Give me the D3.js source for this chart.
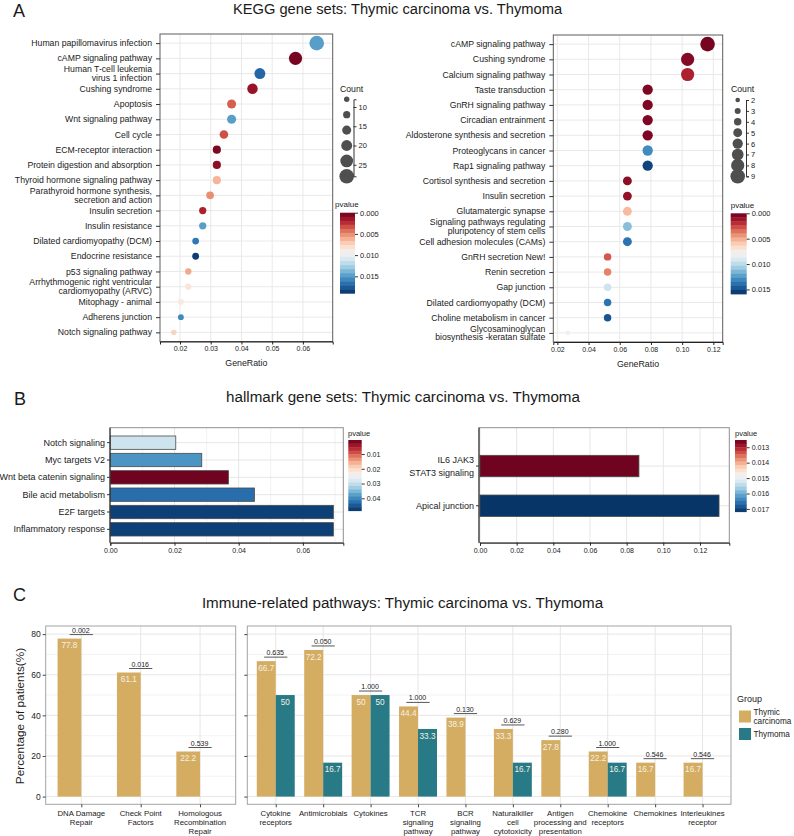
<!DOCTYPE html>
<html><head><meta charset="utf-8">
<script src="https://cdn.jsdelivr.net/npm/d3@7/dist/d3.min.js"></script>
<style>
html,body{margin:0;padding:0;background:#fff;}
svg{display:block;font-family:"Liberation Sans",Arial,Helvetica,sans-serif;}
</style></head><body>
<svg id="chart" width="794" height="836"></svg>
<script>
// ---------------- DATA ----------------
// Panel A – KEGG (left)
const keggLeftTerms = ["Human papillomavirus infection","cAMP signaling pathway","Human T-cell leukemia\nvirus 1 infection","Cushing syndrome","Apoptosis","Wnt signaling pathway","Cell cycle","ECM-receptor interaction","Protein digestion and absorption","Thyroid hormone signaling pathway","Parathyroid hormone synthesis,\nsecretion and action","Insulin secretion","Insulin resistance","Dilated cardiomyopathy (DCM)","Endocrine resistance","p53 signaling pathway","Arrhythmogenic right ventricular\ncardiomyopathy (ARVC)","Mitophagy - animal","Adherens junction","Notch signaling pathway"];
const keggLeftRatio = [0.0645,0.0576,0.0460,0.0436,0.0368,0.0368,0.0343,0.0320,0.0320,0.0320,0.0298,0.0274,0.0274,0.0251,0.0251,0.0227,0.0227,0.0203,0.0203,0.0180];
const keggLeftCount = [28,25,20,19,16,16,15,14,14,14,13,12,12,11,11,10,10,9,9,8];
const keggLeftP = [0.0148,0.0004,0.0170,0.0013,0.0038,0.0148,0.0034,0.0006,0.0010,0.0063,0.0051,0.0019,0.0148,0.0163,0.0185,0.0059,0.0084,0.0086,0.0156,0.0074];
const keggLeftXTicks = [0.02,0.03,0.04,0.05,0.06];
const keggLeftCountTicks = [10,15,20,25];
const keggLeftCountKeys = [8,12,16,20,24,28];
const keggLeftPTicks = [0,0.005,0.010,0.015];

// Panel A – KEGG (right)
const keggRightTerms = ["cAMP signaling pathway","Cushing syndrome","Calcium signaling pathway","Taste transduction","GnRH signaling pathway","Circadian entrainment","Aldosterone synthesis and secretion","Proteoglycans in cancer","Rap1 signaling pathway","Cortisol synthesis and secretion","Insulin secretion","Glutamatergic synapse","Signaling pathways regulating\npluripotency of stem cells","Cell adhesion molecules (CAMs)","GnRH secretion New!","Renin secretion","Gap junction","Dilated cardiomyopathy (DCM)","Choline metabolism in cancer","Glycosaminoglycan\nbiosynthesis -keratan sulfate"];
const keggRightRatio = [0.1163,0.1035,0.1035,0.0779,0.0779,0.0779,0.0779,0.0779,0.0779,0.0649,0.0649,0.0649,0.0649,0.0649,0.0522,0.0522,0.0522,0.0522,0.0522,0.0266];
const keggRightCount = [9,8,8,6,6,6,6,6,6,5,5,5,5,5,4,4,4,4,4,2];
const keggRightP = [0.0003,0.0006,0.0016,0.0005,0.0005,0.0005,0.0005,0.0130,0.0153,0.0008,0.0010,0.0054,0.0113,0.0138,0.0030,0.0040,0.0095,0.0138,0.0148,0.0078];
const keggRightXTicks = [0.02,0.04,0.06,0.08,0.10,0.12];
const keggRightCountTicks = [2,3,4,5,6,7,8,9];
const keggRightPTicks = [0,0.005,0.010,0.015];

// Panel B – hallmark
const hallLeftTerms = ["Notch signaling","Myc targets V2","Wnt beta catenin signaling","Bile acid metabolism","E2F targets","Inflammatory response"];
const hallLeftRatio = [0.0204,0.0285,0.0368,0.0449,0.0695,0.0695];
const hallLeftP = [0.0292,0.0388,0.0010,0.0427,0.0470,0.0470];
const hallLeftXTicks = [0,0.02,0.04,0.06];
const hallLeftXMinor = [0.01,0.03,0.05,0.07];
const hallLeftPTicks = [0.01,0.02,0.03,0.04];

const hallRightTerms = ["IL6 JAK3\nSTAT3 signaling","Apical junction"];
const hallRightRatio = [0.0867,0.1304];
const hallRightP = [0.01258,0.01714];
const hallRightXTicks = [0,0.02,0.04,0.06,0.08,0.10,0.12];
const hallRightPTicks = [0.013,0.014,0.015,0.016,0.017];

// Panel C – immune related pathways
const immLeftCats = ["DNA Damage\nRepair","Check Point\nFactors","Homologous\nRecombination\nRepair"];
const immLeftCarcinoma = [77.8,61.1,22.2];
const immLeftThymoma = [0,0,0];
const immLeftP = ["0.002","0.016","0.539"];
const immRightCats = ["Cytokine\nreceptors","Antimicrobials","Cytokines","TCR\nsignaling\npathway","BCR\nsignaling\npathway","Naturalkiller\ncell\ncytotoxicity","Antigen\nprocessing and\npresentation","Chemokine\nreceptors","Chemokines","Interleukines\nreceptor"];
const immRightCarcinoma = [66.7,72.2,50,44.4,38.9,33.3,27.8,22.2,16.7,16.7];
const immRightThymoma = [50,16.7,50,33.3,0,16.7,0,16.7,0,0];
const immRightP = ["0.635","0.050","1.000","1.000","0.130","0.629","0.280","1.000","0.546","0.546"];
const immYTicks = [0,20,40,60,80];
const immYMinor = [10,30,50,70];
const groups = ["Thymic\ncarcinoma","Thymoma"];
const groupColors = ["#d4ad63","#287a86"];

// ---------------- HELPERS ----------------
const svg = d3.select("#chart");
const TXT = "#1a1a1a";
const GRID = "#e6e6e6";

function multi(g, str, x, y, lh, anchor, fs, firstAtY) {
  const ls = str.split("\n");
  const t = g.append("text").attr("text-anchor", anchor).attr("font-size", fs).attr("fill", TXT);
  ls.forEach((l, i) => {
    const yy = firstAtY ? y + i * lh : y + (i - (ls.length - 1) / 2) * lh;
    t.append("tspan").attr("x", x).attr("y", yy).attr("dy", "0.35em").text(l);
  });
  return t;
}
function styleAxis(sel, fs, col) {
  sel.attr("font-family", null).attr("font-size", fs);
  sel.selectAll("text").attr("fill", TXT);
  sel.selectAll("line,path").attr("stroke", col || "#222");
}
function colorbar(o) {
  const g = svg.append("g");
  const n = 20;
  const ys = d3.scaleLinear().domain(o.domain).range([o.y0, o.y1]);
  g.selectAll("rect").data(d3.range(n)).join("rect")
    .attr("x", o.x).attr("width", o.w)
    .attr("y", i => o.y0 + i * (o.y1 - o.y0) / n)
    .attr("height", (o.y1 - o.y0) / n + 0.4)
    .attr("fill", i => d3.interpolateRdBu((i + 0.5) / n));
  const ax = g.append("g").attr("transform", `translate(${o.x + o.w},0)`)
    .call(d3.axisRight(ys).tickValues(o.ticks).tickFormat(d3.format(o.fmt)).tickSize(3).tickPadding(2));
  ax.select(".domain").remove();
  styleAxis(ax, o.fs, "#333");
  g.append("text").attr("x", o.tx).attr("y", o.ty).attr("font-size", o.tfs).attr("fill", TXT).text("pvalue");
}

// ---------------- TITLES ----------------
svg.append("text").attr("x", 13).attr("y", 17).attr("font-size", 18).attr("fill", TXT).text("A");
svg.append("text").attr("x", 14).attr("y", 405).attr("font-size", 18).attr("fill", TXT).text("B");
svg.append("text").attr("x", 13).attr("y", 601).attr("font-size", 18).attr("fill", TXT).text("C");
svg.append("text").attr("x", 397.5).attr("y", 14).attr("text-anchor", "middle").attr("font-size", 14.7).attr("fill", TXT).text("KEGG gene sets: Thymic carcinoma vs. Thymoma");
svg.append("text").attr("x", 403).attr("y", 402).attr("text-anchor", "middle").attr("font-size", 15.2).attr("fill", TXT).text("hallmark gene sets: Thymic carcinoma vs. Thymoma");
svg.append("text").attr("x", 402.5).attr("y", 608).attr("text-anchor", "middle").attr("font-size", 15.2).attr("fill", TXT).text("Immune-related pathways: Thymic carcinoma vs. Thymoma");

// ---------------- PANEL A ----------------
function drawDot(o) {
  const g = svg.append("g");
  const x = d3.scaleLinear().domain(o.xDomain).range([o.x0, o.x1]);
  const y = d3.scalePoint().domain(o.terms).range([o.y0, o.y1]).padding(0.6);
  const r = d3.scaleLinear().domain(o.sizeDomain).range(o.rRange);
  const col = d3.scaleSequential(d3.interpolateRdBu).domain(o.pDomain);
  g.append("g").selectAll("line").data(o.xTicks).join("line")
    .attr("x1", d => x(d)).attr("x2", d => x(d)).attr("y1", o.y0).attr("y2", o.y1)
    .attr("stroke", GRID).attr("stroke-width", 0.9);
  g.append("g").selectAll("line").data(o.terms).join("line")
    .attr("x1", o.x0).attr("x2", o.x1).attr("y1", d => y(d)).attr("y2", d => y(d))
    .attr("stroke", GRID).attr("stroke-width", 0.9);
  g.append("rect").attr("x", o.x0).attr("y", o.y0).attr("width", o.x1 - o.x0).attr("height", o.y1 - o.y0)
    .attr("fill", "none").attr("stroke", "#5c5c5c").attr("stroke-width", 1);
  g.append("g").selectAll("circle").data(o.terms).join("circle")
    .attr("cx", (d, i) => x(o.ratio[i])).attr("cy", d => y(d))
    .attr("r", (d, i) => r(o.count[i])).attr("fill", (d, i) => col(o.p[i]));
  const ya = g.append("g").attr("transform", `translate(${o.x0},0)`)
    .call(d3.axisLeft(y).tickSize(4).tickSizeOuter(0).tickFormat(""));
  ya.select(".domain").remove();
  styleAxis(ya, 8.7, "#333");
  o.terms.forEach(t => multi(g, t, o.x0 - 8, y(t), 8.8, "end", 8.7, false));
  const xa = g.append("g").attr("transform", `translate(0,${o.y1})`)
    .call(d3.axisBottom(x).tickValues(o.xTicks).tickFormat(d3.format(".2f")).tickSize(3).tickSizeOuter(3).tickPadding(2));
  styleAxis(xa, 7, "#222");
  g.append("text").attr("x", (o.x0 + o.x1) / 2).attr("y", o.y1 + 24.5).attr("text-anchor", "middle")
    .attr("font-size", 8.8).attr("fill", TXT).text("GeneRatio");
  // size legend
  const sy = d3.scaleLinear().domain(o.sizeDomain).range([o.sl.y0, o.sl.y1]);
  g.append("text").attr("x", o.sl.tx).attr("y", o.sl.ty).attr("font-size", 8.7).attr("fill", TXT).text("Count");
  g.append("g").selectAll("circle").data(o.sl.keys).join("circle")
    .attr("cx", o.sl.cx).attr("cy", d => sy(d)).attr("r", d => r(d)).attr("fill", "#4f4f4f");
  const sa = g.append("g").attr("transform", `translate(${o.sl.ax},0)`)
    .call(d3.axisRight(sy).tickValues(o.sl.ticks).tickFormat(d3.format("d")).tickSize(3).tickSizeOuter(3).tickPadding(2));
  styleAxis(sa, 7.5, "#333");
  colorbar(Object.assign({domain: o.pDomain}, o.cb));
}

drawDot({
  terms: keggLeftTerms, ratio: keggLeftRatio, count: keggLeftCount, p: keggLeftP,
  x0: 160, x1: 332.7, y0: 34, y1: 341.5, xDomain: [0.0135, 0.0697], xTicks: keggLeftXTicks,
  sizeDomain: [8, 28], rRange: [2.7, 7.3], pDomain: [0, 0.019],
  sl: {keys: keggLeftCountKeys, ticks: keggLeftCountTicks, y0: 99.3, y1: 176.3, cx: 346.7, ax: 353.5, tx: 340, ty: 92},
  cb: {x: 340, w: 15, y0: 212.7, y1: 293.3, ticks: keggLeftPTicks, fmt: ".3f", fs: 7.5, tx: 335, ty: 207, tfs: 8}
});
drawDot({
  terms: keggRightTerms, ratio: keggRightRatio, count: keggRightCount, p: keggRightP,
  x0: 553.3, x1: 722.7, y0: 35, y1: 342, xDomain: [0.0174, 0.1260], xTicks: keggRightXTicks,
  sizeDomain: [2, 9], rRange: [2.3, 7.3], pDomain: [0, 0.0159],
  sl: {keys: keggRightCountTicks, ticks: keggRightCountTicks, y0: 100, y1: 176.3, cx: 737.7, ax: 746, tx: 731, ty: 92},
  cb: {x: 730.7, w: 16, y0: 213.3, y1: 294, ticks: keggRightPTicks, fmt: ".3f", fs: 7.5, tx: 730.7, ty: 208, tfs: 8}
});

// ---------------- PANEL B ----------------
function drawHBar(o) {
  const g = svg.append("g");
  const x = d3.scaleLinear().domain(o.xDomain).range([o.xr0, o.x1]);
  const y = d3.scaleBand().domain(o.terms).range([o.by0, o.by1]).paddingInner(o.pi).paddingOuter(o.po);
  const col = d3.scaleSequential(d3.interpolateRdBu).domain(o.pDomain);
  g.append("g").selectAll("line").data(o.xMinor || []).join("line")
    .attr("x1", d => x(d)).attr("x2", d => x(d)).attr("y1", o.y0).attr("y2", o.y1).attr("stroke", "#f2f2f2");
  g.append("g").selectAll("line").data(o.xTicks).join("line")
    .attr("x1", d => x(d)).attr("x2", d => x(d)).attr("y1", o.y0).attr("y2", o.y1).attr("stroke", GRID);
  g.append("g").selectAll("line").data(o.terms).join("line")
    .attr("x1", o.x0).attr("x2", o.x1).attr("y1", d => y(d) + y.bandwidth() / 2).attr("y2", d => y(d) + y.bandwidth() / 2)
    .attr("stroke", GRID);
  g.append("rect").attr("x", o.x0).attr("y", o.y0).attr("width", o.x1 - o.x0).attr("height", o.y1 - o.y0)
    .attr("fill", "none").attr("stroke", "#8f8f8f").attr("stroke-width", 1);
  g.append("g").selectAll("rect").data(o.terms).join("rect")
    .attr("x", x(0)).attr("y", d => y(d)).attr("height", y.bandwidth())
    .attr("width", (d, i) => x(o.ratio[i]) - x(0))
    .attr("fill", (d, i) => col(o.p[i])).attr("stroke", "#4a4a4a").attr("stroke-width", 0.8);
  g.append("line").attr("x1", o.x0).attr("x2", o.x0).attr("y1", o.y0).attr("y2", o.y1).attr("stroke", "#222");
  const ya = g.append("g").attr("transform", `translate(${o.x0},0)`)
    .call(d3.axisLeft(y).tickSize(3).tickSizeOuter(0).tickFormat(""));
  ya.select(".domain").remove();
  styleAxis(ya, 9, "#333");
  o.terms.forEach(t => multi(g, t, o.x0 - 5, y(t) + y.bandwidth() / 2, o.lh, "end", 9, false));
  const xa = g.append("g").attr("transform", `translate(0,${o.y1})`)
    .call(d3.axisBottom(x).tickValues(o.xTicks).tickFormat(d3.format(".2f")).tickSize(3).tickSizeOuter(3).tickPadding(2));
  styleAxis(xa, 7, "#222");
  colorbar(Object.assign({domain: o.pDomain}, o.cb));
}
drawHBar({
  terms: hallLeftTerms, ratio: hallLeftRatio, p: hallLeftP,
  x0: 110, xr0: 110.3, x1: 343.3, y0: 427.7, y1: 542.7, by0: 434, by1: 538, pi: 0.23, po: 0.115,
  xDomain: [0, 0.0726], xTicks: hallLeftXTicks, xMinor: hallLeftXMinor, pDomain: [0.0005, 0.0484], lh: 12,
  cb: {x: 348.3, w: 13.4, y0: 440, y1: 510.7, ticks: hallLeftPTicks, fmt: ".2f", fs: 7, tx: 348, ty: 436, tfs: 7.5}
});
drawHBar({
  terms: hallRightTerms, ratio: hallRightRatio, p: hallRightP,
  x0: 479, xr0: 480, x1: 729.3, y0: 427.7, y1: 542.7, by0: 446.2, by1: 525.6, pi: 0.46, po: 0.23,
  xDomain: [0, 0.136], xTicks: hallRightXTicks, xMinor: [], pDomain: [0.01253, 0.01718], lh: 12.7,
  cb: {x: 735, w: 11.7, y0: 440, y1: 511.7, ticks: hallRightPTicks, fmt: ".3f", fs: 7, tx: 735, ty: 436, tfs: 7.5}
});

// ---------------- PANEL C ----------------
const yC = d3.scaleLinear().domain([-3.8, 84]).range([804.3, 626]);
function drawImm(o) {
  const g = svg.append("g");
  const x = d3.scalePoint().domain(o.cats).range([o.x0, o.x1]).padding(0.6);
  const bw = x.step() * 0.4;
  const y0 = yC.range()[1], y1 = yC.range()[0];
  g.append("g").selectAll("line").data(immYMinor).join("line")
    .attr("x1", o.x0).attr("x2", o.x1).attr("y1", d => yC(d)).attr("y2", d => yC(d)).attr("stroke", "#f3f3f3");
  g.append("g").selectAll("line").data(immYTicks).join("line")
    .attr("x1", o.x0).attr("x2", o.x1).attr("y1", d => yC(d)).attr("y2", d => yC(d)).attr("stroke", GRID);
  g.append("g").selectAll("line").data(o.cats).join("line")
    .attr("x1", d => x(d)).attr("x2", d => x(d)).attr("y1", y0).attr("y2", y1).attr("stroke", GRID);
  g.append("rect").attr("x", o.x0).attr("y", y0).attr("width", o.x1 - o.x0).attr("height", y1 - y0)
    .attr("fill", "none").attr("stroke", "#a3a3a3").attr("stroke-width", 1);
  const series = [o.car, o.thy];
  series.forEach((vals, si) => {
    g.append("g").selectAll("rect").data(o.cats).join("rect")
      .attr("x", d => si === 0 ? x(d) - bw : x(d)).attr("width", bw)
      .attr("y", (d, i) => yC(vals[i])).attr("height", (d, i) => yC(0) - yC(vals[i]))
      .attr("fill", groupColors[si]);
    g.append("g").selectAll("text").data(o.cats.filter((d, i) => vals[i] > 0)).join("text")
      .attr("x", d => (si === 0 ? x(d) - bw / 2 : x(d) + bw / 2))
      .attr("y", d => yC(vals[o.cats.indexOf(d)]) + 9.8)
      .attr("text-anchor", "middle").attr("font-size", 8.2).attr("fill", "#f6f0e2")
      .text(d => String(vals[o.cats.indexOf(d)]));
  });
  o.cats.forEach((c, i) => {
    const m = Math.max(o.car[i], o.thy[i]);
    const ly = yC(m) - 4;
    g.append("line").attr("x1", x(c) - 11.6).attr("x2", x(c) + 11.6).attr("y1", ly).attr("y2", ly)
      .attr("stroke", "#444").attr("stroke-width", 0.9);
    g.append("text").attr("x", x(c) - 0.5).attr("y", ly - 2).attr("text-anchor", "middle")
      .attr("font-size", 7).attr("fill", TXT).text(o.p[i]);
  });
  const ya = g.append("g").attr("transform", `translate(${o.x0},0)`)
    .call(d3.axisLeft(yC).tickValues(immYTicks).tickSize(3).tickPadding(2).tickFormat(o.showY ? d3.format("d") : ""));
  ya.select(".domain").remove();
  styleAxis(ya, 8.5, "#444");
  const xa = g.append("g").attr("transform", `translate(0,${y1})`)
    .call(d3.axisBottom(x).tickSize(3).tickFormat(""));
  xa.select(".domain").remove();
  styleAxis(xa, 8.5, "#444");
  o.cats.forEach(c => multi(g, c, x(c), 813.3, 9, "middle", 7.8, true));
}
drawImm({cats: immLeftCats, car: immLeftCarcinoma, thy: immLeftThymoma, p: immLeftP, x0: 45.7, x1: 235.7, showY: true});
drawImm({cats: immRightCats, car: immRightCarcinoma, thy: immRightThymoma, p: immRightP, x0: 247.3, x1: 731, showY: false});
svg.append("text").attr("transform", "translate(24,716) rotate(-90)").attr("text-anchor", "middle")
  .attr("font-size", 11.8).attr("fill", TXT).text("Percentage of patients(%)");

// legend
const lg = svg.append("g");
lg.append("text").attr("x", 737).attr("y", 702).attr("font-size", 9).attr("fill", TXT).text("Group");
groups.forEach((gname, i) => {
  const yy = i === 0 ? 710.5 : 728;
  lg.append("rect").attr("x", 739).attr("y", yy).attr("width", 12).attr("height", 12).attr("fill", groupColors[i]);
  const ls = gname.split("\n");
  const t = lg.append("text").attr("font-size", 8.2).attr("fill", TXT);
  ls.forEach((l, j) => t.append("tspan").attr("x", 753.5).attr("y", yy + 6 + (j - (ls.length - 1) / 2) * 8.6).attr("dy", "0.35em").text(l));
});
</script>
</body></html>
